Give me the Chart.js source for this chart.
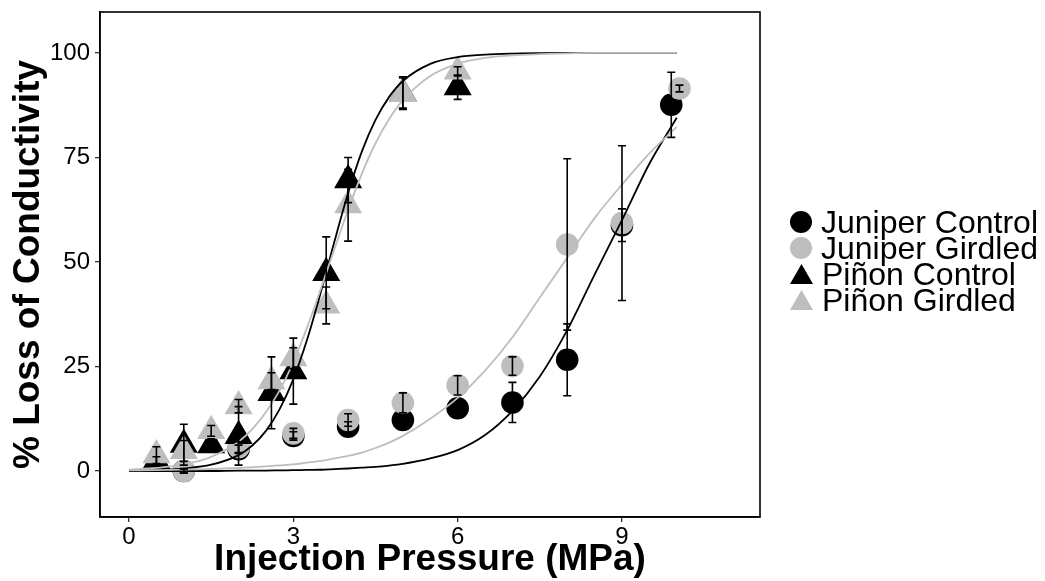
<!DOCTYPE html>
<html>
<head>
<meta charset="utf-8">
<title>Loss of conductivity</title>
<script src="https://cdn.jsdelivr.net/npm/chart.js@4.4.1/dist/chart.umd.min.js"></script>
<style>
  body { margin: 0; background: #fff; }
  #wrap { position: relative; width: 1045px; height: 581px; }
  #legend { position: absolute; left: 790px; top: 209px; font-family: 'Liberation Sans', Arial, sans-serif; font-size: 32px; line-height: 26px; color: #000; }
  #legend ul { list-style: none; margin: 0; padding: 0; }
  #legend li { display: flex; align-items: center; height: 26px; white-space: nowrap; }
  #legend .key { flex: none; margin-right: 9px; }
  #legend .circle { width: 22px; height: 22px; border-radius: 50%; }
  #legend .triangle { width: 23px; height: 20px; clip-path: polygon(50% 0, 100% 100%, 0 100%); }
</style>
</head>
<body>
<div id="wrap">
  <canvas id="chart" width="1045" height="581"></canvas>
  <div id="legend"></div>
</div>
<script>
// pressure steps (MPa)
const pinonX = [0.5, 1, 1.5, 2, 2.6, 3, 3.6, 4, 5, 6];
const juniperControlX = [1, 2, 3, 4, 5, 6, 7, 8, 9, 9.9];
const juniperGirdledX = [1, 2, 3, 4, 5, 6, 7, 8, 9, 10.05];

// mean % loss of conductivity and standard errors
const juniperControl = [0, 5.2, 8.4, 10.6, 12.2, 15, 16.4, 26.6, 58.8, 87.6];
const juniperControlSE = [0.5, 1, 1, 1.2, 1.2, 1, 4.8, 8.6, 3.9, 7.8];
const juniperGirdled = [0, 5.7, 9, 12.2, 16.3, 20.5, 25.1, 54.2, 59.3, 91.5];
const juniperGirdledSE = [0.5, 1.3, 1.2, 1.5, 2.4, 2.3, 2.2, 20.5, 18.5, 0.8];
const pinonControl = [2.4, 6.3, 6.2, 8.4, 18.7, 23.9, 47.4, 69.6, 90.4, 91.8];
const pinonControlSE = [1, 4.9, 1.5, 7, 8.6, 7.9, 8.6, 5.4, 3.6, 2.9];
const pinonGirdled = [3.8, 4.8, 9.6, 15.5, 21.5, 27, 39.6, 63.6, 90.4, 95.6];
const pinonGirdledSE = [2, 2.5, 1.3, 1.6, 2, 2.5, 4.4, 8.6, 3.9, 1.1];

// fitted vulnerability curves
const fitX = [0, 0.5, 1, 1.5, 2, 2.25, 2.5, 2.75, 3, 3.25, 3.5, 3.75, 4, 4.25, 4.5, 4.75, 5, 5.5, 6, 6.5, 7, 7.5, 8, 8.5, 9, 9.5, 10];
const fitJuniperControl = [0, 0, 0, 0, 0.1, 0.1, 0.1, 0.15, 0.2, 0.25, 0.3, 0.45, 0.6, 0.8, 1, 1.3, 1.7, 3, 5, 8.6, 14.4, 22.6, 33.7, 47, 60, 73.5, 84.5];
const fitJuniperGirdled = [0.14, 0.21, 0.32, 0.48, 0.72, 0.9, 1.1, 1.35, 1.6, 2, 2.4, 3, 3.6, 4.4, 5.5, 6.8, 8.4, 12.5, 17.5, 24, 32, 41.5, 51, 60.5, 68.5, 76, 82.3];
const fitPinonControl = [0.1, 0.2, 0.6, 1.5, 3.8, 6.1, 9.6, 14.8, 22, 31.4, 42.7, 54.9, 66.5, 76.4, 84, 89.5, 93.3, 97.4, 99, 99.6, 99.85, 99.95, 100, 100, 100, 100, 100];
const fitPinonGirdled = [0.34, 0.73, 1.57, 3.4, 7, 10, 14.1, 19.3, 26.1, 34.3, 43.5, 53.1, 62.5, 71.1, 78.4, 84.2, 88.7, 94.5, 97.4, 98.8, 99.4, 99.7, 99.9, 100, 100, 100, 100];

const xTicks = [0, 3, 6, 9];
const yTicks = [0, 25, 50, 75, 100];

const BLACK = '#000000';
const GREY = '#bebebe';

function pts(xs, ys) {
  return xs.map((x, i) => ({x: x, y: ys[i]}));
}

function pointSet(label, xs, ys, se, color, style, order) {
  return {
    label: label,
    data: pts(xs, ys),
    errors: se,
    backgroundColor: color,
    borderColor: color,
    pointStyle: style,
    pointRadius: style === 'triangle' ? 16.2 : 11.3,
    pointBorderWidth: 0,
    showLine: false,
    order: order,
    inLegend: true
  };
}

function fitSet(ys, color, order) {
  return {
    data: pts(fitX, ys),
    borderColor: color,
    borderWidth: 1.8,
    showLine: true,
    pointRadius: 0,
    cubicInterpolationMode: 'monotone',
    fill: false,
    order: order
  };
}

// axis boxes take a fixed size and no extra label overhang
function fixBox(prop, size) {
  return s => {
    s[prop] = size;
    s.paddingTop = 0;
    s.paddingBottom = 0;
    s.paddingLeft = 0;
    s.paddingRight = 0;
  };
}

// error bars drawn over the points, black for every group
const errorBars = {
  id: 'errorBars',
  afterDatasetsDraw(chart) {
    const {ctx, scales: {x, y}} = chart;
    ctx.save();
    ctx.strokeStyle = BLACK;
    ctx.lineWidth = 1.6;
    chart.data.datasets.forEach(ds => {
      if (!ds.errors) return;
      ds.data.forEach((p, j) => {
        const e = ds.errors[j];
        const px = x.getPixelForValue(p.x);
        const top = y.getPixelForValue(p.y + e);
        const bot = y.getPixelForValue(p.y - e);
        ctx.beginPath();
        ctx.moveTo(px, top); ctx.lineTo(px, bot);
        ctx.moveTo(px - 4, top); ctx.lineTo(px + 4, top);
        ctx.moveTo(px - 4, bot); ctx.lineTo(px + 4, bot);
        ctx.stroke();
      });
    });
    ctx.restore();
  }
};

// full box round the panel
const panelBorder = {
  id: 'panelBorder',
  afterDraw(chart) {
    const {ctx, chartArea: a} = chart;
    ctx.save();
    ctx.strokeStyle = BLACK;
    ctx.lineWidth = 1.6;
    ctx.strokeRect(a.left, a.top, a.right - a.left, a.bottom - a.top);
    ctx.restore();
  }
};

// html legend built from the point datasets
const htmlLegend = {
  id: 'htmlLegend',
  afterUpdate(chart) {
    const box = document.getElementById('legend');
    const ul = document.createElement('ul');
    chart.data.datasets.forEach(ds => {
      if (!ds.inLegend) return;
      const li = document.createElement('li');
      const key = document.createElement('span');
      key.className = 'key ' + ds.pointStyle;
      key.style.background = ds.backgroundColor;
      const txt = document.createElement('span');
      txt.textContent = ds.label;
      li.appendChild(key);
      li.appendChild(txt);
      ul.appendChild(li);
    });
    box.innerHTML = '';
    box.appendChild(ul);
  }
};

const tickFont = {family: "'Liberation Sans', Arial, sans-serif", size: 24};
const titleFont = {family: "'Liberation Sans', Arial, sans-serif", size: 37, weight: 'bold', lineHeight: 1};

new Chart(document.getElementById('chart'), {
  type: 'scatter',
  data: {
    datasets: [
      pointSet('Juniper Control', juniperControlX, juniperControl, juniperControlSE, BLACK, 'circle', 7),
      pointSet('Juniper Girdled', juniperGirdledX, juniperGirdled, juniperGirdledSE, GREY, 'circle', 6),
      pointSet('Piñon Control', pinonX, pinonControl, pinonControlSE, BLACK, 'triangle', 5),
      pointSet('Piñon Girdled', pinonX, pinonGirdled, pinonGirdledSE, GREY, 'triangle', 4),
      fitSet(fitJuniperControl, BLACK, 3),
      fitSet(fitPinonControl, BLACK, 2),
      fitSet(fitJuniperGirdled, GREY, 1),
      fitSet(fitPinonGirdled, GREY, 0)
    ]
  },
  options: {
    responsive: false,
    animation: false,
    layout: {autoPadding: false, padding: {top: 12, right: 285, left: 0, bottom: 0}},
    plugins: {
      legend: {display: false},
      tooltip: {enabled: false}
    },
    scales: {
      x: {
        type: 'linear',
        min: -0.53,
        max: 11.52,
        afterBuildTicks: s => { s.ticks = xTicks.map(v => ({value: v})); },
        afterFit: fixBox('height', 64),
        ticks: {font: tickFont, color: BLACK, padding: 1},
        grid: {drawOnChartArea: false, drawTicks: true, tickLength: 5, color: '#333333', lineWidth: 1.3},
        border: {display: true, color: BLACK, width: 1.6},
        title: {display: true, text: 'Injection Pressure (MPa)', color: BLACK, font: titleFont, padding: {top: 0, bottom: 3}}
      },
      y: {
        type: 'linear',
        min: -11,
        max: 109.8,
        afterBuildTicks: s => { s.ticks = yTicks.map(v => ({value: v})); },
        afterFit: fixBox('width', 100),
        ticks: {font: tickFont, color: BLACK, padding: 5},
        grid: {drawOnChartArea: false, drawTicks: true, tickLength: 5, color: '#333333', lineWidth: 1.3},
        border: {display: true, color: BLACK, width: 1.6},
        title: {display: true, text: '% Loss of Conductivity', color: BLACK, font: titleFont, padding: {top: 10, bottom: 0}}
      }
    }
  },
  plugins: [errorBars, panelBorder, htmlLegend]
});
</script>
</body>
</html>
